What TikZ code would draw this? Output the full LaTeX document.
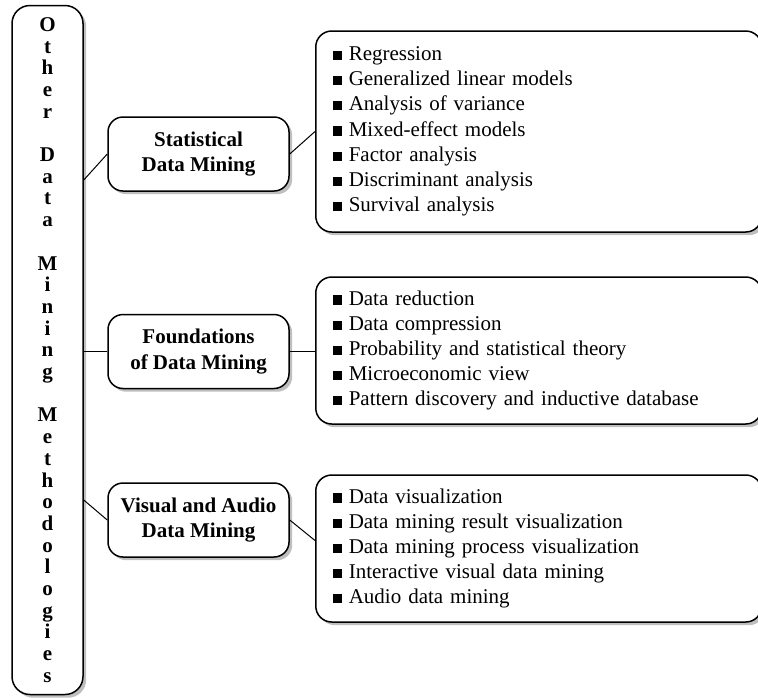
\documentclass[tikz,border=0pt]{standalone}
\usepackage{fontspec}
\setmainfont{Liberation Serif}
\usepackage{tikz}
\usetikzlibrary{positioning,shadows,calc}
\newcommand{\diafont}{\fontsize{10.5}{12.6}\selectfont}
\newcommand{\sqitem}{\makebox[8pt][l]{\rule[0.3pt]{4.6pt}{4.6pt}}}
\tikzset{
  box/.style={draw=black,fill=white,line width=0.75pt,rounded corners=#1,
              drop shadow={shadow xshift=1.6pt,shadow yshift=-1.6pt,fill=black!25,opacity=1}},
  box/.default=8pt,
  rootbox/.style={box=9pt,minimum width=35.5pt,minimum height=344.5pt,inner sep=0pt,align=center,
                  font=\bfseries\fontsize{10.5}{10.85}\selectfont},
  topic/.style={box=7.5pt,minimum width=90.5pt,minimum height=37pt,inner sep=2pt,align=center,
                font=\diafont\bfseries},
  itemlist/.style={box=8pt,anchor=west,text width=206pt,inner xsep=8.5pt,align=left,
                   minimum height=#1,font=\diafont},
  link/.style={draw=black,line width=0.5pt},
}

\begin{document}
\begin{tikzpicture}[x=0.5pt,y=-0.5pt]
  \useasboundingbox (0,0) rectangle (758,697);
  \node[rootbox] (root) at (47.5,350) {O\\t\\h\\e\\r\\[10.85pt]D\\a\\t\\a\\[10.85pt]M\\i\\n\\i\\n\\g\\[10.85pt]M\\e\\t\\h\\o\\d\\o\\l\\o\\g\\i\\e\\s};
  \node[topic] (stat)  at (198.5,154)   {Statistical\\Data Mining};
  \node[topic] (found) at (198.5,351.5) {Foundations\\of Data Mining};
  \node[topic] (vis)   at (198.5,520)   {Visual and Audio\\Data Mining};
  \node[itemlist=100.5pt] (lstat) at (315,131.5) {\sqitem Regression\\\sqitem Generalized linear models\\\sqitem Analysis of variance\\\sqitem Mixed-effect models\\\sqitem Factor analysis\\\sqitem Discriminant analysis\\\sqitem Survival analysis};
  \node[itemlist=73.5pt] (lfound) at (315,350.5) {\sqitem Data reduction\\\sqitem Data compression\\\sqitem Probability and statistical theory\\\sqitem Microeconomic view\\\sqitem Pattern discovery and inductive database};
  \node[itemlist=73.5pt] (lvis) at (315,548.5) {\sqitem Data visualization\\\sqitem Data mining result visualization\\\sqitem Data mining process visualization\\\sqitem Interactive visual data mining\\\sqitem Audio data mining};
  \draw[link] (stat.west) -- ([yshift=-13pt]root.east |- stat.west);
  \draw[link] (stat.east) -- (lstat.west);
  \draw[link] (found.west) -- (root.east |- found.west);
  \draw[link] (found.east) -- (lfound.west |- found.east);
  \draw[link] (vis.west) -- ([yshift=10pt]root.east |- vis.west);
  \draw[link] (vis.east) -- ([yshift=4pt]lvis.west);
\end{tikzpicture}
\end{document}
